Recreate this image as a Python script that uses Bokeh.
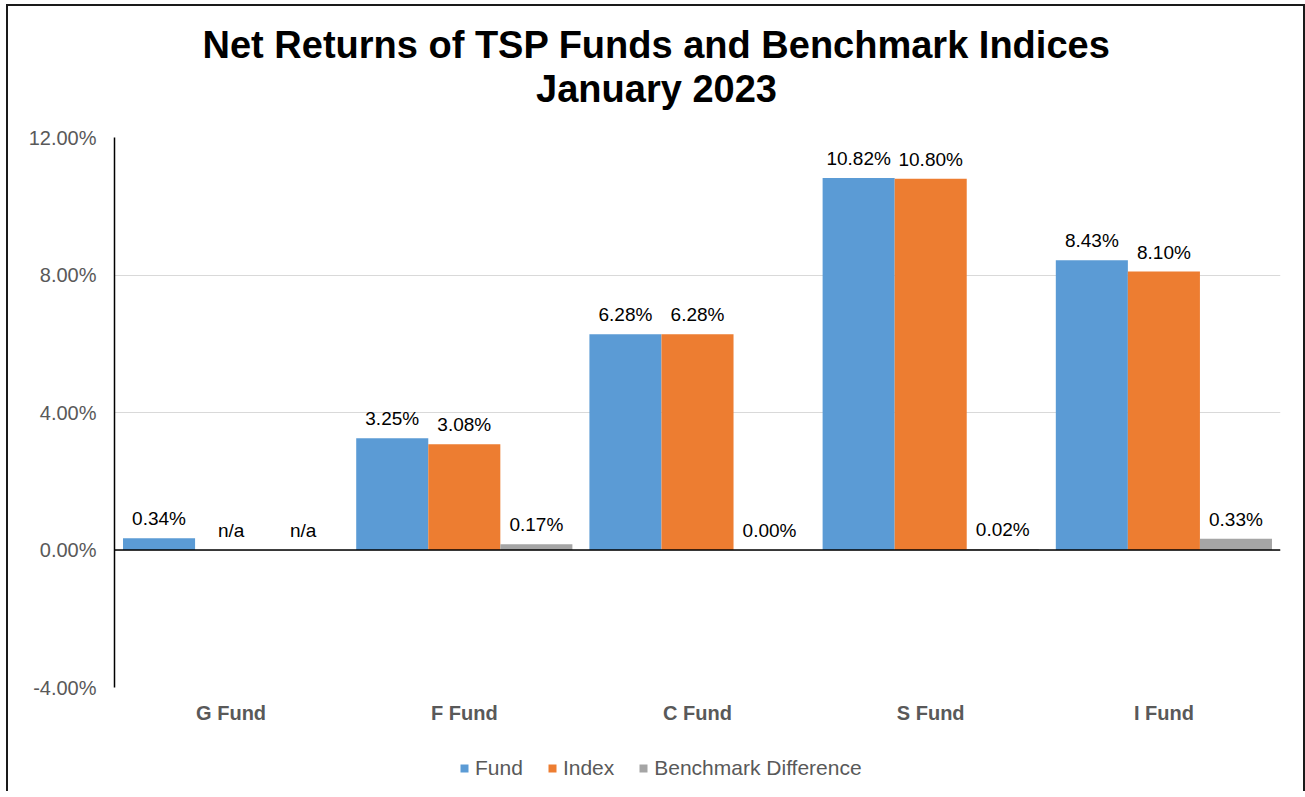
import math
from bokeh.plotting import figure
from bokeh.layouts import column
from bokeh.models import (FactorRange, ColumnDataSource, FixedTicker, PrintfTickFormatter,
                          Span, Label, Legend, LegendItem)
from bokeh.transform import dodge
from bokeh.core.properties import value
from bokeh.embed import file_html
from bokeh.resources import INLINE

# ---- data ----
categories = ["G Fund", "F Fund", "C Fund", "S Fund", "I Fund"]
fund = [0.34, 3.25, 6.28, 10.82, 8.43]
index = [float("nan"), 3.08, 6.28, 10.80, 8.10]
difference = [float("nan"), 0.17, 0.00, 0.02, 0.33]
y_ticks = [-4, 0, 4, 8, 12]
title_lines = ["Net Returns of TSP Funds and Benchmark Indices", "January 2023"]
series_names = ["Fund", "Index", "Benchmark Difference"]
colors = ["#5B9BD5", "#ED7D31", "#A5A5A5"]

def lab(v):
    return "n/a" if math.isnan(v) else f"{v:.2f}%"

def ypos(v):
    return 0.0 if math.isnan(v) else v

src = ColumnDataSource(dict(
    cat=categories, fund=fund, index=index, diff=difference,
    fund_lab=[lab(v) for v in fund], index_lab=[lab(v) for v in index], diff_lab=[lab(v) for v in difference],
    fund_y=[ypos(v) for v in fund], index_y=[ypos(v) for v in index], diff_y=[ypos(v) for v in difference],
))

FONT = "Liberation Sans"
W = 1295
HT = 113   # title strip
HM = 608   # main chart
HL = 64    # legend strip
BL, BR = 106, 23

def blank(h):
    f = figure(width=W, height=h, x_range=(0, 1), y_range=(0, 1), output_backend="svg",
               toolbar_location=None, x_axis_type=None, y_axis_type=None,
               min_border_left=BL, min_border_right=BR, min_border_top=0, min_border_bottom=0,
               outline_line_color=None, background_fill_color="white", border_fill_color="white")
    f.xgrid.visible = False
    f.ygrid.visible = False
    return f

# ---- title strip ----
t = blank(HT)
for txt, yb in zip(title_lines, [75, 31]):
    t.add_layout(Label(x=542, y=yb, x_units="screen", y_units="screen", text=txt,
                       text_align="center", text_baseline="alphabetic",
                       text_font=FONT, text_font_size="38px", text_font_style="bold",
                       text_color="#000000"))

# ---- main chart ----
p = figure(x_range=FactorRange(factors=categories, range_padding=0), y_range=(-4, 12),
           width=W, height=HM, output_backend="svg", toolbar_location=None,
           min_border_left=BL, min_border_right=BR, min_border_top=18, min_border_bottom=40,
           background_fill_color="white", border_fill_color="white", outline_line_color=None)

bw = 0.309
cols = ["fund", "index", "diff"]
offs = [-bw, 0.0, bw]
for c, o, col in zip(cols, offs, colors):
    p.vbar(x=dodge("cat", o, range=p.x_range), top=c, bottom=0, width=bw, source=src,
           fill_color=col, line_color=None)
    p.text(x=dodge("cat", o, range=p.x_range), y=c + "_y", text=c + "_lab", source=src,
           text_align="center", text_baseline="bottom", y_offset=-9,
           text_font=value(FONT), text_font_size="19px", text_color="#000000")

p.add_layout(Span(location=0, dimension="width", line_color="#000000", line_width=1.5))

p.yaxis.ticker = FixedTicker(ticks=y_ticks)
p.yaxis.formatter = PrintfTickFormatter(format="%.2f%%")
p.yaxis.axis_line_color = "#000000"
p.yaxis.axis_line_width = 1.5
p.yaxis.major_tick_line_color = None
p.yaxis.minor_tick_line_color = None
p.yaxis.major_tick_out = 0
p.yaxis.major_label_standoff = 18
p.yaxis.major_label_text_font = FONT
p.yaxis.major_label_text_font_size = "20px"
p.yaxis.major_label_text_color = "#595959"

p.xaxis.axis_line_color = None
p.xaxis.major_tick_line_color = None
p.xaxis.minor_tick_line_color = None
p.xaxis.major_tick_out = 0
p.xaxis.major_label_standoff = 14
p.xaxis.major_label_text_font = FONT
p.xaxis.major_label_text_font_size = "20px"
p.xaxis.major_label_text_font_style = "bold"
p.xaxis.major_label_text_color = "#595959"

p.xgrid.grid_line_color = None
p.ygrid.grid_line_color = "#D9D9D9"
p.ygrid.grid_line_width = 1

# ---- legend strip ----
q = blank(HL)
dummy = [q.vbar(x=[0.5], top=[-1.0], bottom=[-2.0], width=0.1, fill_color=col, line_color=None)
         for col in colors]
legend = Legend(items=[LegendItem(label=n, renderers=[r]) for n, r in zip(series_names, dummy)],
                orientation="horizontal", location=(345, 11),
                glyph_width=10, glyph_height=10, label_standoff=6, spacing=24,
                label_text_font=FONT, label_text_font_size="21px", label_text_color="#595959",
                border_line_color=None, background_fill_alpha=0, margin=0, padding=0)
q.add_layout(legend, "center")

layout = column(t, p, q, spacing=0,
                styles={"border": "2px solid #1a1a1a", "border-bottom": "none",
                        "margin-left": "6px", "margin-top": "4px"})

open("out.html", "w").write(file_html(layout, INLINE))
